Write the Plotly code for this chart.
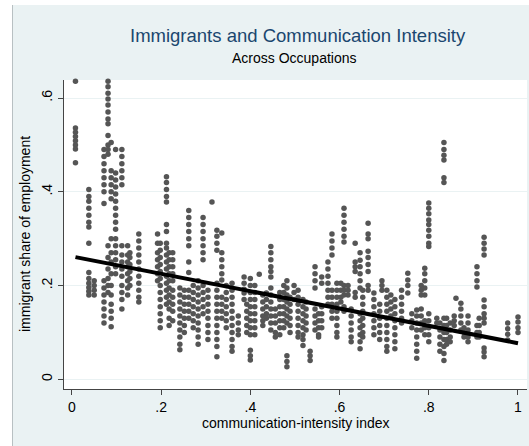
import plotly.graph_objects as go

# ---- data (occupation columns: x = index, y = shares) ----
occ_x = [0.008, 0.038, 0.05, 0.072, 0.081, 0.088, 0.098, 0.112, 0.125, 0.13, 0.15,
         0.192, 0.198, 0.212, 0.218, 0.226, 0.242, 0.252, 0.262, 0.272, 0.283, 0.294,
         0.305, 0.314, 0.325, 0.336, 0.346, 0.359, 0.373, 0.386, 0.392, 0.4, 0.41,
         0.42, 0.428, 0.436, 0.446, 0.456, 0.466, 0.475, 0.482, 0.489, 0.498, 0.507,
         0.518, 0.525, 0.534, 0.545, 0.553, 0.56, 0.574, 0.583, 0.594, 0.603, 0.61,
         0.619, 0.626, 0.635, 0.646, 0.652, 0.664, 0.677, 0.69, 0.695, 0.706, 0.715,
         0.724, 0.739, 0.753, 0.762, 0.773, 0.783, 0.791, 0.8, 0.818, 0.825, 0.834,
         0.84, 0.848, 0.857, 0.861, 0.872, 0.879, 0.888, 0.908, 0.913, 0.924, 0.977, 1.0]

occ_y = [
    [0.636, 0.536, 0.527, 0.518, 0.509, 0.5, 0.491, 0.462],
    [0.405, 0.39, 0.38, 0.365, 0.35, 0.335, 0.325, 0.29, 0.228, 0.215, 0.205, 0.196, 0.188, 0.18],
    [0.21, 0.2, 0.19, 0.18],
    [0.49, 0.475, 0.46, 0.445, 0.43, 0.415, 0.4, 0.375, 0.21, 0.195, 0.18, 0.165, 0.15, 0.135, 0.12],
    [0.636, 0.624, 0.61, 0.598, 0.585, 0.57, 0.555, 0.545, 0.52, 0.5, 0.49, 0.48, 0.285, 0.26, 0.235, 0.215, 0.2, 0.185],
    [0.505, 0.445, 0.43, 0.415, 0.4, 0.385, 0.3, 0.27, 0.25, 0.225, 0.2, 0.18, 0.16, 0.145, 0.13, 0.112],
    [0.49, 0.44, 0.425, 0.41, 0.395, 0.38, 0.365, 0.35, 0.335, 0.32, 0.3, 0.285, 0.27, 0.255, 0.24, 0.225],
    [0.49, 0.475, 0.46, 0.445, 0.43, 0.415, 0.285, 0.265, 0.25, 0.235, 0.22, 0.2, 0.185, 0.17, 0.15],
    [0.285, 0.265, 0.25, 0.24, 0.225, 0.21, 0.195, 0.18],
    [0.27, 0.26, 0.245, 0.23, 0.215, 0.2],
    [0.31, 0.295, 0.28, 0.265, 0.25, 0.235, 0.22, 0.205, 0.19, 0.175, 0.165],
    [0.31, 0.29, 0.27, 0.255, 0.24, 0.225, 0.21],
    [0.29, 0.275, 0.26, 0.245, 0.23, 0.215, 0.2, 0.185, 0.17, 0.155, 0.14, 0.125, 0.11],
    [0.432, 0.42, 0.405, 0.39, 0.378, 0.33, 0.315, 0.29, 0.28, 0.265, 0.25, 0.235, 0.22, 0.205, 0.19, 0.175, 0.16],
    [0.27, 0.255, 0.24, 0.225, 0.21, 0.195, 0.18, 0.165, 0.15, 0.13, 0.115],
    [0.27, 0.255, 0.24, 0.225, 0.21, 0.19, 0.175, 0.16, 0.145, 0.125],
    [0.195, 0.18, 0.165, 0.15, 0.135, 0.12, 0.105, 0.09, 0.075, 0.063],
    [0.19, 0.175, 0.16, 0.145, 0.13, 0.115, 0.1],
    [0.36, 0.345, 0.33, 0.315, 0.3, 0.285, 0.25, 0.228, 0.19, 0.175, 0.16, 0.145, 0.13],
    [0.2, 0.185, 0.17, 0.155, 0.14, 0.125, 0.11],
    [0.21, 0.195, 0.18, 0.165, 0.15, 0.135, 0.12, 0.105, 0.09, 0.075],
    [0.345, 0.33, 0.315, 0.3, 0.285, 0.27, 0.255, 0.2, 0.185, 0.17, 0.155, 0.14],
    [0.19, 0.175, 0.16, 0.145, 0.13, 0.115, 0.1, 0.085],
    [0.378],
    [0.318, 0.305, 0.29, 0.275, 0.205, 0.19, 0.175, 0.16, 0.145, 0.13, 0.115, 0.1, 0.085, 0.07, 0.048],
    [0.312, 0.27, 0.255, 0.24, 0.225, 0.212, 0.175, 0.16, 0.145, 0.13],
    [0.2, 0.185, 0.17, 0.155, 0.14, 0.125, 0.11],
    [0.205, 0.19, 0.175, 0.16, 0.145, 0.13, 0.115, 0.1, 0.085, 0.07, 0.06],
    [0.135, 0.12, 0.105, 0.095],
    [0.218, 0.205, 0.192, 0.184, 0.17],
    [0.16, 0.145, 0.13, 0.115, 0.1],
    [0.215, 0.2, 0.185, 0.17, 0.155, 0.14, 0.125, 0.11, 0.095, 0.062, 0.05, 0.041],
    [0.2, 0.185, 0.17, 0.155, 0.14, 0.125, 0.11, 0.095],
    [0.224],
    [0.18, 0.165, 0.15, 0.135, 0.125, 0.115],
    [0.184, 0.17, 0.155, 0.14, 0.13],
    [0.283, 0.27, 0.255, 0.24, 0.23, 0.218, 0.195, 0.18, 0.165, 0.15, 0.135, 0.12, 0.105],
    [0.15, 0.135, 0.12, 0.1, 0.09],
    [0.185, 0.17, 0.155, 0.14, 0.125, 0.11, 0.095],
    [0.2, 0.185, 0.17, 0.155, 0.14, 0.125, 0.11],
    [0.21, 0.195, 0.18, 0.165, 0.15, 0.135, 0.12, 0.05, 0.038, 0.027],
    [0.175, 0.16, 0.145, 0.13, 0.115, 0.1],
    [0.2, 0.185, 0.17],
    [0.19, 0.175, 0.16, 0.145, 0.13, 0.115, 0.1, 0.09],
    [0.17, 0.155, 0.14, 0.125, 0.11, 0.095, 0.085, 0.072],
    [0.165, 0.15, 0.135, 0.12, 0.105],
    [0.06, 0.05, 0.04],
    [0.24, 0.225, 0.21, 0.195, 0.15, 0.135, 0.12, 0.105],
    [0.14, 0.125, 0.11, 0.095, 0.09],
    [0.218, 0.205, 0.155, 0.14, 0.125, 0.11],
    [0.25, 0.235, 0.22, 0.205, 0.19, 0.175, 0.16],
    [0.31, 0.295, 0.28, 0.265, 0.19, 0.175, 0.16, 0.145, 0.13],
    [0.205, 0.19, 0.175, 0.16, 0.145, 0.13, 0.115, 0.1, 0.09],
    [0.205, 0.19, 0.175, 0.165],
    [0.365, 0.35, 0.335, 0.32, 0.305, 0.293, 0.2, 0.19, 0.18, 0.155, 0.145],
    [0.2, 0.19, 0.18],
    [0.15, 0.135, 0.12, 0.105, 0.09, 0.08],
    [0.29, 0.25, 0.24, 0.23, 0.185, 0.175],
    [0.27, 0.254, 0.24, 0.225, 0.21, 0.195, 0.14, 0.125, 0.11, 0.095, 0.08, 0.065],
    [0.19, 0.175, 0.16, 0.145, 0.13, 0.115, 0.1, 0.09],
    [0.333, 0.31, 0.3, 0.273, 0.26, 0.245, 0.23, 0.2, 0.19],
    [0.184, 0.17, 0.155, 0.14, 0.125, 0.11, 0.095],
    [0.16, 0.145, 0.13, 0.115, 0.1, 0.085],
    [0.21, 0.2, 0.19],
    [0.19, 0.175, 0.16, 0.145, 0.13, 0.115, 0.1, 0.085, 0.07, 0.06],
    [0.18, 0.165, 0.15, 0.135],
    [0.17, 0.155, 0.14, 0.125, 0.11, 0.095, 0.08, 0.065],
    [0.19, 0.175, 0.16, 0.145, 0.13, 0.12],
    [0.226, 0.212, 0.2, 0.184],
    [0.14, 0.125, 0.11],
    [0.148, 0.135, 0.12, 0.105, 0.09, 0.075, 0.06, 0.045],
    [0.2, 0.19, 0.18, 0.15, 0.135, 0.12, 0.105],
    [0.237, 0.225, 0.21, 0.195, 0.18, 0.125, 0.11, 0.095],
    [0.376, 0.365, 0.353, 0.34, 0.33, 0.318, 0.305, 0.29, 0.283, 0.14, 0.125, 0.11, 0.095, 0.08],
    [0.13, 0.12],
    [0.12, 0.105, 0.09, 0.075, 0.06],
    [0.505, 0.49, 0.478, 0.468, 0.43, 0.42, 0.13, 0.115, 0.1, 0.085, 0.07, 0.055, 0.04],
    [0.13, 0.115, 0.1, 0.085, 0.075],
    [0.12, 0.105, 0.09, 0.08],
    [0.135, 0.125, 0.115],
    [0.173],
    [0.162, 0.15, 0.135, 0.12, 0.105],
    [0.11, 0.1, 0.09],
    [0.135, 0.12, 0.105, 0.09, 0.08],
    [0.24, 0.225, 0.21, 0.197, 0.115, 0.1, 0.09],
    [0.13, 0.115, 0.1, 0.09],
    [0.303, 0.29, 0.278, 0.265, 0.169, 0.155, 0.14, 0.13, 0.12, 0.067, 0.058, 0.048],
    [0.12, 0.108, 0.096, 0.084],
    [0.133, 0.122, 0.11, 0.1],
]

# fitted line
fit_intercept = 0.262
fit_slope = -0.185

x_ticks = [0, 0.2, 0.4, 0.6, 0.8, 1]
x_tick_labels = ["0", ".2", ".4", ".6", ".8", "1"]
y_ticks = [0, 0.2, 0.4, 0.6]
y_tick_labels = ["0", ".2", ".4", ".6"]

title_text = "Immigrants and Communication Intensity"
subtitle_text = "Across Occupations"
x_title = "communication-intensity index"
y_title = "immigrant share of employment"

# ---- build ----
xs, ys = [], []
for xv, col in zip(occ_x, occ_y):
    for yv in col:
        xs.append(xv)
        ys.append(yv)

fit_x = [min(occ_x), max(occ_x)]
fit_y = [fit_intercept + fit_slope * v for v in fit_x]

FONT = "Liberation Sans, Arial, sans-serif"
BG = "#eaf2f3"

fig = go.Figure()
fig.add_trace(go.Scatter(x=xs, y=ys, mode="markers", cliponaxis=False,
                         marker=dict(size=5.5, color="#555555", line=dict(width=0)),
                         showlegend=False, hoverinfo="skip"))
fig.add_trace(go.Scatter(x=fit_x, y=fit_y, mode="lines",
                         line=dict(color="black", width=4),
                         showlegend=False, hoverinfo="skip"))

W, H = 529, 446
L, R, T, B = 64, 2, 80, 57
pw = W - L - R
ph = H - T - B

def px_x(p):
    return (p - L) / pw

def px_y(p):
    return (H - B - p) / ph

fig.update_layout(
    width=W, height=H,
    margin=dict(l=L, r=R, t=T, b=B, pad=0),
    paper_bgcolor=BG, plot_bgcolor="white",
    font=dict(family=FONT, size=14, color="black"),
    xaxis=dict(range=[-0.0177, 1.0202], tickvals=x_ticks, ticktext=x_tick_labels,
               showgrid=False, zeroline=False, showline=True, linecolor="#444444",
               linewidth=1, ticks="outside", ticklen=5, tickcolor="#444444",
               tickfont=dict(size=14)),
    yaxis=dict(range=[-0.0207, 0.6384], tickvals=y_ticks, ticktext=y_tick_labels,
               showgrid=True, gridcolor=BG, gridwidth=1, zeroline=False,
               showline=True, linecolor="#444444", linewidth=1, ticks="outside",
               ticklen=5, tickcolor="#444444", tickangle=-90, tickfont=dict(size=14)),
    shapes=[
        dict(type="rect", xref="paper", yref="paper", x0=px_x(-5), x1=px_x(12),
             y0=px_y(H + 5), y1=px_y(-5), fillcolor="white", line=dict(width=0),
             layer="below"),
        dict(type="rect", xref="paper", yref="paper", x0=px_x(-5), x1=px_x(W + 5),
             y0=px_y(5), y1=px_y(-5), fillcolor="white", line=dict(width=0),
             layer="below"),
        dict(type="line", xref="paper", yref="paper", x0=px_x(12.5), x1=px_x(12.5),
             y0=px_y(H + 5), y1=px_y(5), line=dict(color="#b8c0c2", width=1),
             layer="below"),
    ],
    annotations=[
        dict(text=title_text, x=px_x(297.5), y=px_y(35), xref="paper", yref="paper",
             showarrow=False, font=dict(size=18.5, color="#1a476f", family=FONT),
             xanchor="center", yanchor="middle"),
        dict(text=subtitle_text, x=px_x(294.5), y=px_y(58), xref="paper", yref="paper",
             showarrow=False, font=dict(size=14, color="black", family=FONT),
             xanchor="center", yanchor="middle"),
        dict(text=x_title, x=px_x(295.7), y=px_y(423), xref="paper", yref="paper",
             showarrow=False, font=dict(size=14, color="black", family=FONT),
             xanchor="center", yanchor="middle"),
        dict(text=y_title, x=px_x(25), y=px_y(234), xref="paper", yref="paper",
             showarrow=False, textangle=-90, font=dict(size=14, color="black", family=FONT),
             xanchor="center", yanchor="middle"),
    ],
)

fig.write_html("out.html")
